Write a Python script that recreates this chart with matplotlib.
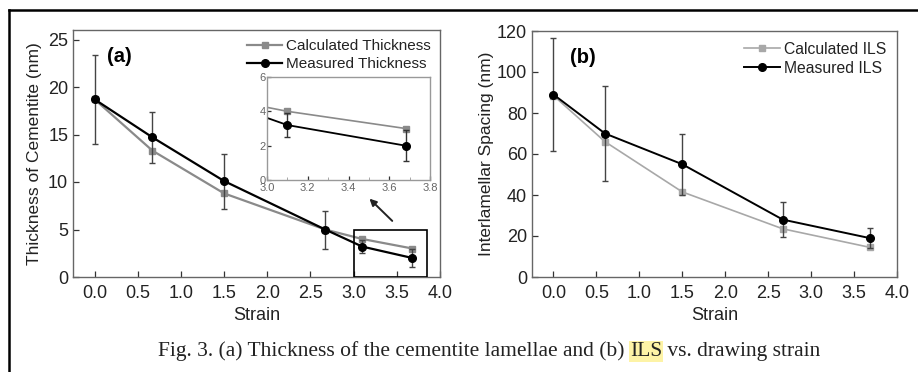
import matplotlib
matplotlib.use("Agg")
import matplotlib.pyplot as plt
from matplotlib.lines import Line2D
from matplotlib.patches import Rectangle

plt.rcParams['font.family'] = ['Liberation Sans', 'DejaVu Sans']

# (a) thickness of cementite
strain_a = [0.0, 0.67, 1.5, 2.67, 3.1, 3.68]
calc_thick = [18.7, 13.3, 8.8, 5.0, 4.0, 3.0]
meas_thick = [18.7, 14.7, 10.1, 5.0, 3.2, 2.0]
meas_thick_err = [4.65, 2.7, 2.9, 2.0, 0.7, 0.9]

# (b) interlamellar spacing
strain_b = [0.0, 0.6, 1.5, 2.67, 3.68]
calc_ils = [88.5, 66.0, 41.5, 23.5, 14.5]
meas_ils = [89.0, 70.0, 55.0, 28.0, 19.0]
meas_ils_err = [27.5, 23.0, 15.0, 8.5, 5.0]

W, H = 918, 372
fig = plt.figure(figsize=(W / 100, H / 100), dpi=100)


def box(l, t, r, b):
    return [l / W, 1 - b / H, (r - l) / W, (b - t) / H]


def style(ax, fs=13, spine='#666666'):
    for s in ax.spines.values():
        s.set_color(spine)
        s.set_linewidth(1.0)
    ax.tick_params(direction='in', labelsize=fs, colors='#333333', length=4, width=0.9,
                   labelcolor='#222222')
    ax.tick_params(axis='x', pad=6)


calc_a_col = '#8a8a8a'
calc_b_col = '#a8a8a8'
ticks_x = [0, 0.5, 1, 1.5, 2, 2.5, 3, 3.5, 4]
ticklabels_x = ['0.0', '0.5', '1.0', '1.5', '2.0', '2.5', '3.0', '3.5', '4.0']

# panel a
ax1 = fig.add_axes(box(73, 30, 440, 277))
ax1.plot(strain_a, calc_thick, '-s', color=calc_a_col, lw=1.6, ms=4.5, label='Calculated Thickness')
ax1.errorbar(strain_a, meas_thick, yerr=meas_thick_err, fmt='none', ecolor='#444444',
             elinewidth=1.0, capsize=2.5)
ax1.plot(strain_a, meas_thick, '-o', color='black', lw=1.6, ms=5.5, label='Measured Thickness')
ax1.set_xlim(-0.25, 4.0)
ax1.set_ylim(0, 26)
ax1.set_xticks(ticks_x)
ax1.set_xticklabels(ticklabels_x)
ax1.set_yticks([0, 5, 10, 15, 20, 25])
ax1.set_xlabel('Strain', fontsize=13, color='#222222', labelpad=3)
ax1.set_ylabel('Thickness of Cementite (nm)', fontsize=12.5, color='#222222', labelpad=4)
style(ax1)
ax1.text(0.093, 0.93, '(a)', transform=ax1.transAxes, fontsize=14.5, fontweight='bold', va='top')
ax1.legend(loc='upper right', frameon=False, fontsize=11, handlelength=2.3, handletextpad=0.25,
           borderaxespad=0.2, labelspacing=0.25, labelcolor='#222222')
ax1.add_patch(Rectangle((3.0, 0), 0.85, 5.0, fill=False, ec='black', lw=1.2, zorder=5))
ax1.annotate('', xy=(3.16, 8.45), xytext=(3.47, 5.7),
             arrowprops=dict(arrowstyle='-|>', color='#222222', lw=1.4, mutation_scale=10))

# inset
axi = fig.add_axes(box(267, 77, 430, 180))
axi.plot(strain_a, calc_thick, '-s', color=calc_a_col, lw=1.2, ms=4.5)
axi.errorbar(strain_a, meas_thick, yerr=meas_thick_err, fmt='-o', color='black', lw=1.3, ms=5.5,
             ecolor='#333333', elinewidth=1.0, capsize=2)
axi.set_xlim(3.0, 3.8)
axi.set_ylim(0, 6)
axi.set_xticks([3.0, 3.2, 3.4, 3.6, 3.8])
axi.set_xticks([3.1, 3.3, 3.5, 3.7], minor=True)
axi.set_yticks([0, 2, 4, 6])
style(axi, fs=8, spine='#999999')
axi.tick_params(which='minor', direction='in', length=2, colors='#999999')
axi.tick_params(labelcolor='#666666', length=3, pad=1)
axi.tick_params(axis='x', pad=2)

# panel b
ax2 = fig.add_axes(box(532, 31, 897, 277))
ax2.plot(strain_b, calc_ils, '-s', color=calc_b_col, lw=1.2, ms=4.5, label='Calculated ILS')
ax2.errorbar(strain_b, meas_ils, yerr=meas_ils_err, fmt='none', ecolor='#444444',
             elinewidth=1.0, capsize=2.5)
ax2.plot(strain_b, meas_ils, '-o', color='black', lw=1.4, ms=5.5, label='Measured ILS')
ax2.set_xlim(-0.25, 4.0)
ax2.set_ylim(0, 120)
ax2.set_xticks(ticks_x)
ax2.set_xticklabels(ticklabels_x)
ax2.set_yticks([0, 20, 40, 60, 80, 100, 120])
ax2.set_xlabel('Strain', fontsize=13, color='#222222', labelpad=3)
ax2.set_ylabel('Interlamellar Spacing (nm)', fontsize=12.5, color='#222222', labelpad=2)
style(ax2)
ax2.text(0.104, 0.93, '(b)', transform=ax2.transAxes, fontsize=14.5, fontweight='bold', va='top')
ax2.legend(loc='upper right', frameon=False, fontsize=11.3, handlelength=2.3, handletextpad=0.25,
           borderaxespad=0.3, labelspacing=0.25, labelcolor='#222222')

# page frame lines
fig.add_artist(Line2D([9 / W, 1], [1 - 10 / H, 1 - 10 / H], color='black', lw=1.8))
fig.add_artist(Line2D([9 / W, 9 / W], [0, 1 - 10 / H], color='black', lw=1.8))

# caption
cap_kw = dict(fontsize=15.5, family='Liberation Serif', color='#222222')
t1 = fig.text(158 / W, 1 - 356 / H, 'Fig. 3. (a) Thickness of the cementite lamellae and (b) ',
              va='baseline', **cap_kw)
t2 = plt.annotate('ILS', xy=(1, 0), xycoords=t1, xytext=(0, 0), textcoords='offset points',
                  ha='left', va='bottom', **cap_kw,
                  bbox=dict(boxstyle='square,pad=0.05', fc='#fdf3a6', ec='none'))
t3 = plt.annotate(' vs. drawing strain', xy=(1, 0), xycoords=t2, xytext=(0, 0),
                  textcoords='offset points', ha='left', va='bottom', **cap_kw)

fig.savefig('out.png', dpi=100)
